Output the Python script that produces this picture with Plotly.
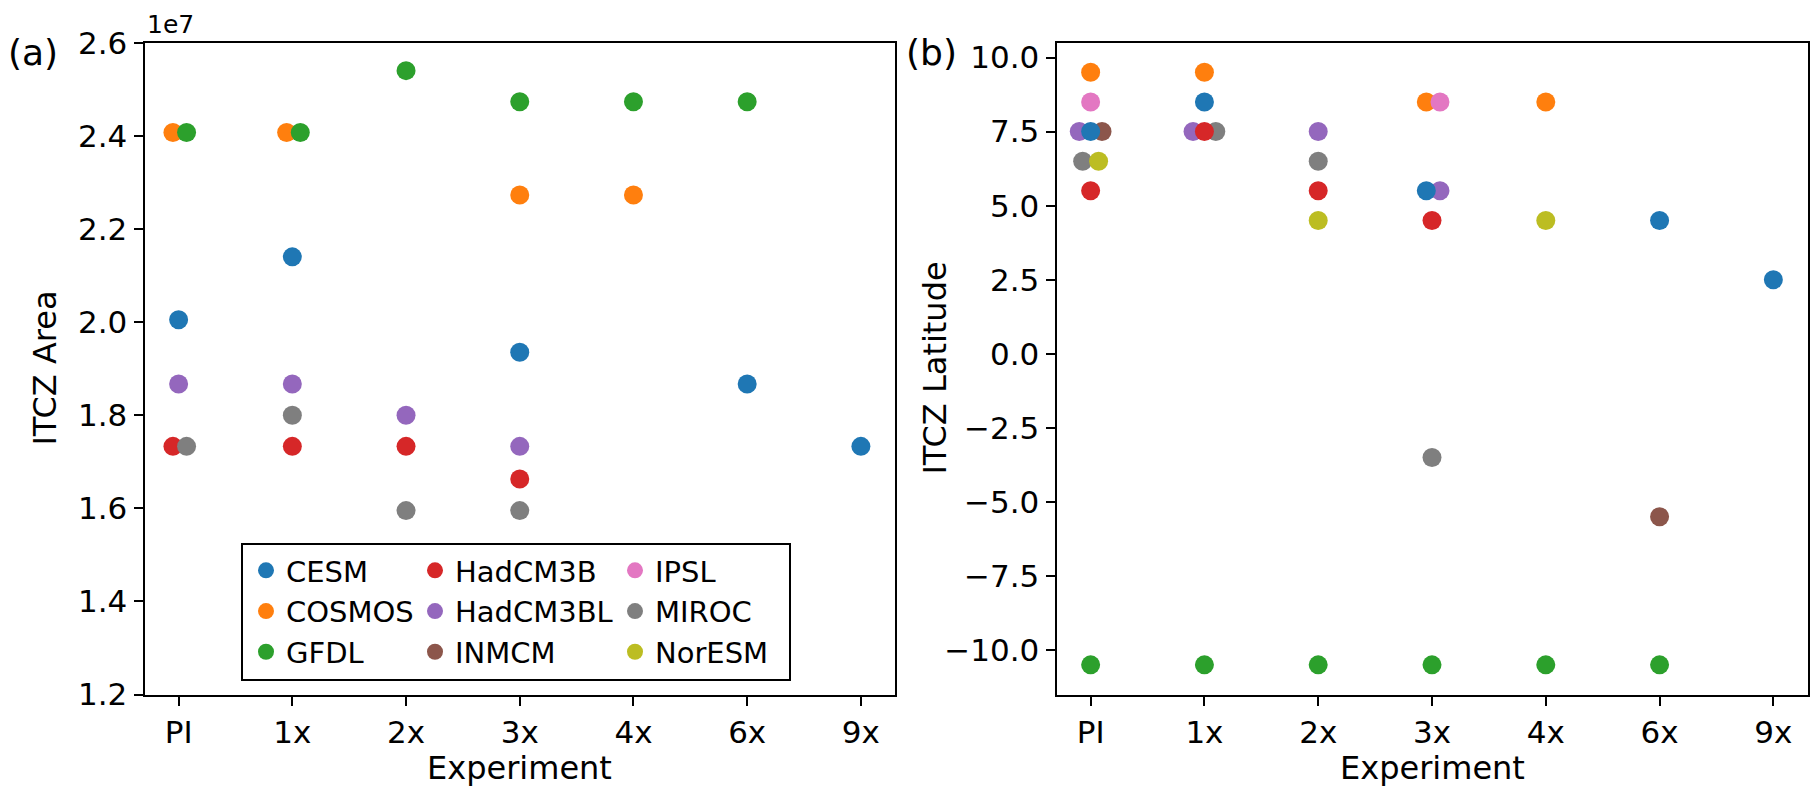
import plotly.graph_objects as go

W, H = 1818, 789

experiments = ["PI", "1x", "2x", "3x", "4x", "6x", "9x"]
models = ["CESM", "COSMOS", "GFDL", "HadCM3B", "HadCM3BL",
          "INMCM", "IPSL", "MIROC", "NorESM"]

# ITCZ area (m^2) per experiment, None where the model has no run
area_cesm = [2.005e7, 2.140e7, None, 1.935e7, None, 1.867e7, 1.733e7]
area_cosmos = [2.407e7, 2.407e7, None, 2.273e7, 2.273e7, None, None]
area_gfdl = [2.407e7, 2.407e7, 2.540e7, 2.473e7, 2.473e7, 2.473e7, None]
area_hadcm3b = [1.733e7, 1.733e7, 1.733e7, 1.663e7, None, None, None]
area_hadcm3bl = [1.867e7, 1.867e7, 1.800e7, 1.733e7, None, None, None]
area_inmcm = [None] * 7
area_ipsl = [None] * 7
area_miroc = [1.733e7, 1.800e7, 1.595e7, 1.595e7, None, None, None]
area_noresm = [None] * 7

# ITCZ latitude (degrees) per experiment
lat_cesm = [7.5, 8.5, None, 5.5, None, 4.5, 2.5]
lat_cosmos = [9.5, 9.5, None, 8.5, 8.5, None, None]
lat_gfdl = [-10.5, -10.5, -10.5, -10.5, -10.5, -10.5, None]
lat_hadcm3b = [5.5, 7.5, 5.5, 4.5, None, None, None]
lat_hadcm3bl = [7.5, 7.5, 7.5, 5.5, None, None, None]
lat_inmcm = [7.5, None, None, None, None, -5.5, None]
lat_ipsl = [8.5, None, None, 8.5, None, None, None]
lat_miroc = [6.5, 7.5, 6.5, -3.5, None, None, None]
lat_noresm = [6.5, None, 4.5, None, 4.5, None, None]

area_ticks = [1.2e7, 1.4e7, 1.6e7, 1.8e7, 2.0e7, 2.2e7, 2.4e7, 2.6e7]
area_ticktext = ["1.2", "1.4", "1.6", "1.8", "2.0", "2.2", "2.4", "2.6"]
lat_ticks = [-10.0, -7.5, -5.0, -2.5, 0.0, 2.5, 5.0, 7.5, 10.0]
lat_ticktext = ["\u221210.0", "\u22127.5", "\u22125.0", "\u22122.5",
                "0.0", "2.5", "5.0", "7.5", "10.0"]

area = {"CESM": area_cesm, "COSMOS": area_cosmos, "GFDL": area_gfdl,
        "HadCM3B": area_hadcm3b, "HadCM3BL": area_hadcm3bl,
        "INMCM": area_inmcm, "IPSL": area_ipsl, "MIROC": area_miroc,
        "NorESM": area_noresm}
lat = {"CESM": lat_cesm, "COSMOS": lat_cosmos, "GFDL": lat_gfdl,
       "HadCM3B": lat_hadcm3b, "HadCM3BL": lat_hadcm3bl,
       "INMCM": lat_inmcm, "IPSL": lat_ipsl, "MIROC": lat_miroc,
       "NorESM": lat_noresm}

colors = {"CESM": "#1f77b4", "COSMOS": "#ff7f0e", "GFDL": "#2ca02c",
          "HadCM3B": "#d62728", "HadCM3BL": "#9467bd", "INMCM": "#8c564b",
          "IPSL": "#e377c2", "MIROC": "#7f7f7f", "NorESM": "#bcbd22"}

# small horizontal dodges so coincident points stay visible
dodge_area = {"COSMOS": {0: -0.05, 1: -0.05}, "GFDL": {0: 0.07, 1: 0.07},
              "HadCM3B": {0: -0.05}, "MIROC": {0: 0.07}}
dodge_lat = {"HadCM3BL": {0: -0.1, 1: -0.1, 3: 0.07}, "INMCM": {0: 0.1},
             "MIROC": {0: -0.07, 1: 0.1}, "NorESM": {0: 0.07},
             "COSMOS": {3: -0.05}, "IPSL": {3: 0.07}, "CESM": {3: -0.05}}

legend_of = {"CESM": "legend", "COSMOS": "legend", "GFDL": "legend",
             "HadCM3B": "legend2", "HadCM3BL": "legend2", "INMCM": "legend2",
             "IPSL": "legend3", "MIROC": "legend3", "NorESM": "legend3"}

FONT = "DejaVu Sans"
MS = 19


def points(values, dodge):
    xs, ys = [], []
    for i, v in enumerate(values):
        if v is None:
            continue
        xs.append(i + dodge.get(i, 0.0))
        ys.append(v)
    return xs, ys


fig = go.Figure()

# left panel: ITCZ area
for m in models:
    xs, ys = points(area[m], dodge_area.get(m, {}))
    if not xs:
        xs, ys = [None], [None]
    fig.add_trace(go.Scatter(
        x=xs, y=ys, mode="markers", name=m,
        marker=dict(size=MS, color=colors[m], line=dict(width=0)),
        xaxis="x", yaxis="y", legend=legend_of[m], showlegend=True,
        hoverinfo="skip"))

# right panel: ITCZ latitude
lat_order = ["INMCM", "HadCM3BL", "MIROC", "COSMOS", "CESM",
             "HadCM3B", "IPSL", "NorESM", "GFDL"]
for m in lat_order:
    xs, ys = points(lat[m], dodge_lat.get(m, {}))
    fig.add_trace(go.Scatter(
        x=xs, y=ys, mode="markers", name=m,
        marker=dict(size=MS, color=colors[m], line=dict(width=0)),
        xaxis="x2", yaxis="y2", showlegend=False, hoverinfo="skip"))


def px_x(p):
    return p / W


def px_y(p):
    return 1 - p / H


axis_common = dict(
    showline=True, linecolor="black", linewidth=2, mirror=True,
    ticks="outside", ticklen=9, tickwidth=1.7, tickcolor="black",
    showgrid=False, zeroline=False, automargin=False,
    tickfont=dict(family=FONT, size=31, color="black"),
)

yb, yt = px_y(694.5), px_y(42.7)

fig.update_layout(
    width=W, height=H,
    margin=dict(l=0, r=0, t=0, b=0, autoexpand=False),
    paper_bgcolor="white", plot_bgcolor="white",
    font=dict(family=FONT, size=30, color="black"),
    xaxis=dict(domain=[px_x(144.5), px_x(895)], range=[-0.3, 6.3],
               tickvals=list(range(len(experiments))), ticktext=experiments,
               anchor="y", **axis_common),
    yaxis=dict(domain=[yb, yt], range=[1.2e7, 2.6e7],
               tickvals=area_ticks, ticktext=area_ticktext,
               anchor="x", **axis_common),
    xaxis2=dict(domain=[px_x(1056.5), px_x(1807.5)], range=[-0.3, 6.3],
                tickvals=list(range(len(experiments))), ticktext=experiments,
                anchor="y2", **axis_common),
    yaxis2=dict(domain=[yb, yt], range=[-11.5, 10.5],
                tickvals=lat_ticks, ticktext=lat_ticktext,
                anchor="x2", **axis_common),
    showlegend=True,
)

legend_common = dict(
    orientation="v", xanchor="left", yanchor="top",
    bgcolor="rgba(0,0,0,0)", borderwidth=0,
    font=dict(family=FONT, size=29, color="black"),
    itemclick=False, itemdoubleclick=False,
)
fig.update_layout(
    legend=dict(x=px_x(246), y=px_y(545), **legend_common),
    legend2=dict(x=px_x(415), y=px_y(545), **legend_common),
    legend3=dict(x=px_x(615), y=px_y(545), **legend_common),
)

# legend frame
fig.add_shape(type="rect", xref="paper", yref="paper",
              x0=px_x(242), x1=px_x(790), y0=px_y(680), y1=px_y(544),
              line=dict(color="black", width=2), fillcolor="rgba(0,0,0,0)")

ann_font = dict(family=FONT, size=32, color="black")
panel_font = dict(family=FONT, size=36, color="black")


def label(text, x, y, angle=0, font=ann_font, xanchor="center"):
    fig.add_annotation(text=text, x=px_x(x), y=px_y(y), xref="paper",
                       yref="paper", xanchor=xanchor, yanchor="middle",
                       textangle=angle, showarrow=False, font=font)


label("(a)", 33, 52, font=panel_font)
label("(b)", 932, 52, font=panel_font)
label("1e7", 145, 24, font=dict(family=FONT, size=25, color="black"),
      xanchor="left")
label("ITCZ Area", 45, 368.6, angle=-90)
label("ITCZ Latitude", 935, 368.6, angle=-90)
label("Experiment", 519.7, 768)
label("Experiment", 1432, 768)

fig.write_html("out.html")
